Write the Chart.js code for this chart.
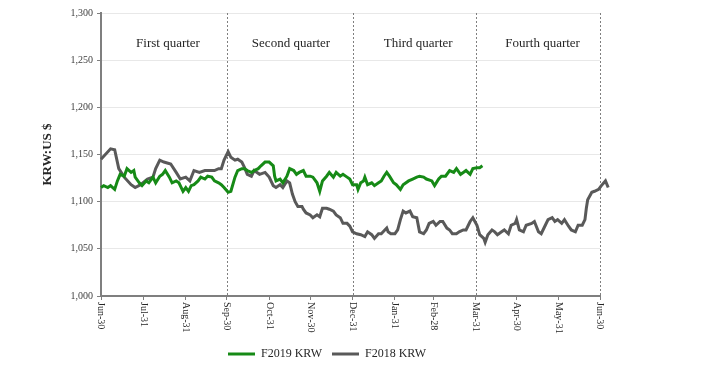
<!DOCTYPE html>
<html>
<head>
<meta charset="utf-8">
<script src="https://cdn.jsdelivr.net/npm/chart.js@4/dist/chart.umd.min.js"></script>
<style>
  html, body { margin: 0; padding: 0; background: #ffffff; }
  #wrap { width: 705px; height: 370px; position: relative; }
</style>
</head>
<body>
<div id="wrap"><canvas id="c" width="705" height="370"></canvas></div>
<script>
// ---- Data (days since Jun-30, KRW per US$) ----
const tickDays   = [0, 31, 62, 92, 123, 153, 184, 215, 243, 274, 304, 335, 365];
const tickLabels = ["Jun-30","Jul-31","Aug-31","Sep-30","Oct-31","Nov-30","Dec-31","Jan-31","Feb-28","Mar-31","Apr-30","May-31","Jun-30"];
const quarterEnds   = [92, 184, 274, 365];
const quarterNames  = ["First quarter","Second quarter","Third quarter","Fourth quarter"];
const quarterLabelDays = [49, 139, 232, 323];

const daysF2019 = [0,2,5,7,10,12,14,17,19,22,24,25,28,30,33,35,38,40,43,45,47,50,52,55,57,60,62,64,66,68,71,73,76,78,81,83,86,88,90,93,95,98,100,103,105,107,110,112,115,117,120,123,126,127,128,131,133,136,138,141,143,145,148,150,153,155,158,160,162,165,167,170,172,175,177,180,182,184,187,188,190,192,193,195,198,200,203,205,207,209,211,214,216,219,221,225,228,231,233,236,238,242,244,247,249,252,255,258,260,263,265,267,270,272,275,277,279];
const valsF2019 = [1115,1117,1115,1117,1113,1122,1129,1127,1135,1131,1133,1126,1120,1117,1122,1120,1126,1120,1127,1129,1133,1126,1120,1122,1120,1111,1115,1111,1117,1118,1122,1126,1124,1127,1126,1122,1120,1118,1115,1110,1111,1126,1133,1135,1135,1133,1131,1133,1135,1138,1142,1142,1138,1127,1122,1124,1120,1127,1135,1133,1129,1131,1133,1127,1127,1126,1120,1111,1122,1127,1131,1126,1131,1127,1129,1126,1124,1118,1118,1113,1120,1122,1126,1118,1120,1117,1120,1122,1127,1131,1127,1120,1118,1113,1118,1122,1124,1126,1127,1126,1124,1122,1117,1124,1127,1127,1133,1131,1135,1129,1131,1133,1129,1135,1136,1136,1138];

const daysF2018 = [0,7,10,13,17,22,25,29,34,38,40,43,46,51,55,58,62,65,68,72,76,79,83,86,88,90,93,95,98,100,103,105,107,110,112,116,120,123,126,128,131,133,136,138,140,142,144,147,148,150,153,155,158,160,162,165,167,170,172,175,177,180,182,184,187,190,193,195,198,200,203,205,209,210,212,215,217,219,221,223,226,228,231,233,236,238,240,243,245,248,250,253,255,257,260,262,265,267,270,272,275,277,280,281,283,286,288,290,293,295,298,300,303,304,306,309,311,315,317,320,322,325,327,330,332,334,337,339,342,344,347,349,352,354,355,356,359,361,364,366,369,371];
const valsF2018 = [1145,1156,1155,1135,1126,1118,1115,1118,1124,1126,1135,1144,1142,1140,1131,1124,1126,1122,1133,1131,1133,1133,1133,1135,1135,1144,1153,1147,1144,1145,1142,1136,1129,1127,1133,1129,1131,1126,1117,1115,1118,1115,1122,1120,1108,1100,1095,1095,1092,1088,1086,1083,1086,1084,1093,1093,1092,1090,1086,1083,1077,1077,1074,1068,1066,1065,1063,1068,1065,1061,1066,1066,1072,1068,1066,1066,1070,1081,1090,1088,1090,1084,1083,1068,1066,1070,1077,1079,1075,1079,1079,1072,1070,1066,1066,1068,1070,1070,1079,1083,1075,1065,1061,1057,1065,1070,1068,1065,1068,1070,1066,1075,1077,1081,1070,1068,1075,1077,1079,1068,1066,1075,1081,1083,1079,1081,1077,1081,1074,1070,1068,1075,1075,1081,1093,1102,1110,1111,1113,1117,1122,1115];

const seriesNames = ["F2019 KRW", "F2018 KRW"];
const xRange = [0, 365];

function pts(days, vals) { return days.map((d, i) => ({ x: d, y: vals[i] })); }

const SERIF = "'Liberation Serif', 'Times New Roman', serif";
const TEXT = '#262626';

const overlay = {
  id: 'overlay',
  beforeDatasetsDraw(chart) {
    const ctx = chart.ctx, xs = chart.scales.x, a = chart.chartArea;
    ctx.save();
    ctx.strokeStyle = '#7f7f7f';
    ctx.lineWidth = 1;
    ctx.setLineDash([2, 2]);
    quarterEnds.forEach(d => {
      const px = Math.round(xs.getPixelForValue(d)) + 0.5;
      ctx.beginPath(); ctx.moveTo(px, a.top); ctx.lineTo(px, a.bottom); ctx.stroke();
    });
    ctx.restore();
  },
  afterDraw(chart) {
    const ctx = chart.ctx, xs = chart.scales.x, a = chart.chartArea;
    ctx.save();
    ctx.fillStyle = TEXT;
    ctx.font = "13px " + SERIF;
    ctx.textAlign = 'center';
    ctx.textBaseline = 'middle';
    quarterNames.forEach((n, i) => ctx.fillText(n, xs.getPixelForValue(quarterLabelDays[i]), a.top + 31));
    ctx.font = "10px " + SERIF;
    ctx.textAlign = 'left';
    tickDays.forEach((d, i) => {
      const px = xs.getPixelForValue(d);
      ctx.save();
      ctx.translate(px, xs.top + 6);
      ctx.rotate(Math.PI / 2);
      ctx.fillText(tickLabels[i], 0, 0);
      ctx.restore();
    });
    ctx.restore();
  }
};

new Chart(document.getElementById('c'), {
  type: 'line',
  data: {
    datasets: [
      { label: seriesNames[0], data: pts(daysF2019, valsF2019), borderColor: '#168a16', backgroundColor: '#168a16', borderWidth: 3, pointRadius: 0, tension: 0, pointStyle: 'line' },
      { label: seriesNames[1], data: pts(daysF2018, valsF2018), borderColor: '#595959', backgroundColor: '#595959', borderWidth: 3, pointRadius: 0, tension: 0, pointStyle: 'line', clip: false }
    ]
  },
  options: {
    responsive: false,
    animation: false,
    layout: { padding: { left: 0, right: 51, top: 13, bottom: 0 } },
    plugins: {
      legend: {
        position: 'bottom',
        labels: {
          usePointStyle: true, pointStyleWidth: 27, padding: 10,
          font: { family: SERIF, size: 12 }, color: TEXT
        }
      },
      tooltip: { enabled: false }
    },
    scales: {
      x: {
        type: 'linear', bounds: 'data',
        afterDataLimits(s) { s.min = xRange[0]; s.max = xRange[1]; },
        afterBuildTicks(s) { s.ticks = tickDays.map(v => ({ value: v })); },
        afterFit(s) { s.height = 42; },
        ticks: { display: false },
        grid: { display: true, drawOnChartArea: false, drawTicks: true, tickLength: 4, color: '#7f7f7f' },
        border: { color: '#7f7f7f', width: 2 }
      },
      y: {
        min: 1000, max: 1300,
        afterFit(s) { s.width = 101; },
        ticks: {
          stepSize: 50, padding: 4, color: '#404040',
          font: { family: SERIF, size: 10 },
          callback: v => v.toLocaleString('en-US')
        },
        grid: { color: '#e8e8e8', tickColor: '#7f7f7f', tickLength: 4 },
        border: { color: '#7f7f7f', width: 2 },
        title: { display: true, text: 'KRW:US $', color: TEXT, font: { family: SERIF, size: 13, weight: 'bold' }, padding: { top: 40, bottom: 0 } }
      },
      yPad: {
        position: 'right', min: 0, max: 1,
        afterFit(s) { s.width = 54; },
        ticks: { display: false },
        grid: { display: false },
        border: { display: false }
      }
    }
  },
  plugins: [overlay]
});
</script>
</body>
</html>
